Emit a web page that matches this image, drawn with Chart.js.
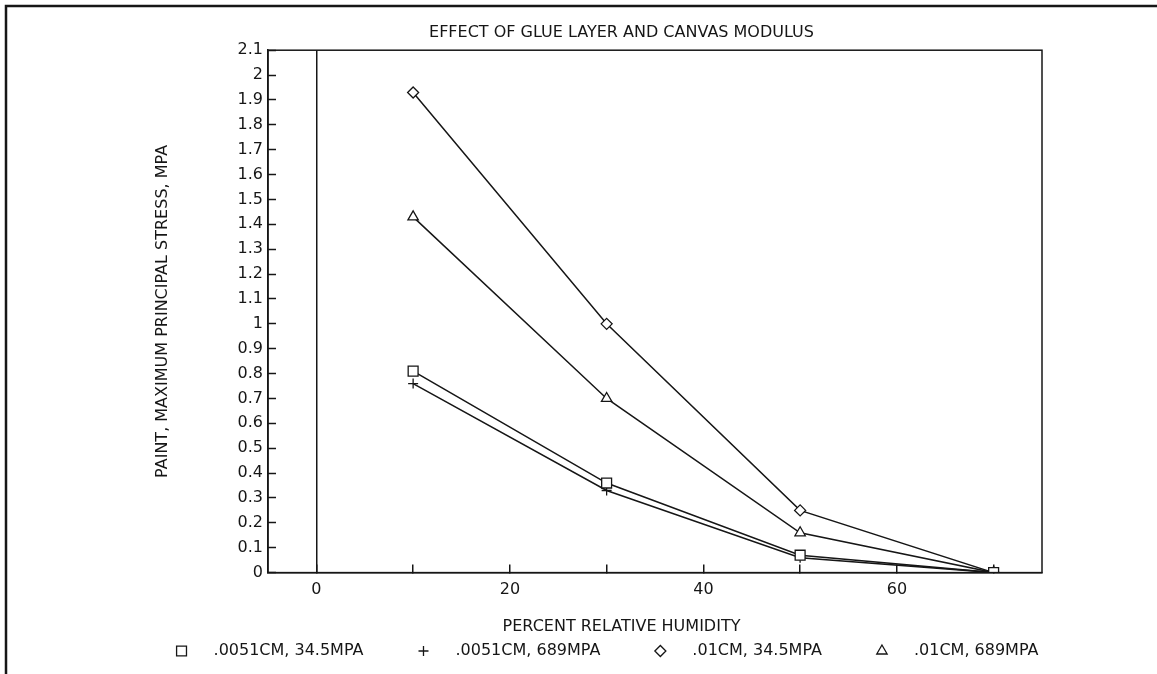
<!DOCTYPE html>
<html>
<head>
<meta charset="utf-8">
<title>Effect of glue layer and canvas modulus</title>
<script src="https://cdn.jsdelivr.net/npm/chart.js@4.4.1/dist/chart.umd.min.js"></script>
<style>
    html, body { margin: 0; padding: 0; background: #fff; }
    #wrap { position: relative; width: 1157px; height: 674px; }
</style>
</head>
<body>
<div id="wrap"><canvas id="stressChart"></canvas></div>
<script>
// values
const humidity = [10, 30, 50, 70];
const thinSoft = [0.81, 0.36, 0.07, 0];
const thinStiff = [0.76, 0.33, 0.06, 0];
const thickSoft = [1.93, 1.00, 0.25, 0];
const thickStiff = [1.43, 0.70, 0.16, 0];
const seriesLabels = ['.0051CM, 34.5MPA', '.0051CM, 689MPA', '.01CM, 34.5MPA', '.01CM, 689MPA'];
const seriesMarkers = ['rect', 'cross', 'rectRot', 'triangle'];
const markerSizes = [7, 5, 5.5, 6];
const xTickValues = [0, 10, 20, 30, 40, 50, 60, 70];
const xLabelValues = [0, 20, 40, 60];

const INK = '#161616';
const FONT = 'DejaVu Sans';
const FONT_SIZE = 16;

Chart.defaults.font.family = FONT;
Chart.defaults.font.size = FONT_SIZE;
Chart.defaults.color = INK;

// outer frame of the scanned page + box round the plot
const framePlugin = {
    id: 'frame',
    beforeDraw(chart) {
        const ctx = chart.ctx;
        ctx.save();
        ctx.fillStyle = '#fff';
        ctx.fillRect(0, 0, chart.width, chart.height);
        ctx.strokeStyle = INK;
        ctx.lineWidth = 2.5;
        ctx.beginPath();
        ctx.moveTo(6, chart.height);
        ctx.lineTo(6, 6);
        ctx.lineTo(chart.width, 6);
        ctx.stroke();
        ctx.restore();
    },
    afterDraw(chart) {
        const a = chart.chartArea;
        const ctx = chart.ctx;
        ctx.save();
        ctx.strokeStyle = INK;
        ctx.lineWidth = 1.5;
        ctx.strokeRect(a.left, a.top, a.right - a.left, a.bottom - a.top);
        ctx.restore();
    }
};

// legend in one row under the axis title, marker then text
const rowLegendPlugin = {
    id: 'rowLegend',
    afterDraw(chart) {
        const ctx = chart.ctx;
        const datasets = chart.data.datasets;
        const markerGap = 32;
        const itemGap = 60;
        ctx.save();
        ctx.font = `${FONT_SIZE}px "${FONT}"`;
        const widths = datasets.map(ds => ctx.measureText(ds.label).width);
        let total = 0;
        widths.forEach((w, i) => {
            total += markerGap + w + (i < widths.length - 1 ? itemGap : 0);
        });
        let x = 610 - total / 2;
        const y = 651;
        datasets.forEach((ds, i) => {
            ctx.strokeStyle = INK;
            ctx.fillStyle = '#fff';
            ctx.lineWidth = 1.3;
            Chart.helpers.drawPoint(ctx, {
                pointStyle: ds.pointStyle,
                radius: ds.pointRadius,
                rotation: 0,
                borderWidth: 1.3
            }, x, y);
            ctx.fillStyle = INK;
            ctx.textAlign = 'left';
            ctx.textBaseline = 'middle';
            ctx.fillText(ds.label, x + markerGap, y);
            x += markerGap + widths[i] + itemGap;
        });
        ctx.restore();
    }
};

function makeSeries(label, values, i) {
    return {
        label: label,
        data: humidity.map((h, j) => ({ x: h, y: values[j] })),
        borderColor: INK,
        borderWidth: 1.5,
        tension: 0,
        fill: false,
        pointStyle: seriesMarkers[i],
        pointRadius: markerSizes[i],
        pointHoverRadius: markerSizes[i],
        pointBorderColor: INK,
        pointBackgroundColor: '#fff',
        pointBorderWidth: 1.3
    };
}

const datasets = [thinSoft, thinStiff, thickSoft, thickStiff].map((vals, i) => makeSeries(seriesLabels[i], vals, i));

new Chart(document.getElementById('stressChart'), {
    type: 'line',
    data: { datasets },
    options: {
        responsive: true,
        maintainAspectRatio: false,
        animation: false,
        events: [],
        layout: { padding: { left: 90, right: 4, top: 0, bottom: 38 } },
        plugins: {
            legend: { display: false },
            tooltip: { enabled: false },
            title: {
                display: true,
                text: 'EFFECT OF GLUE LAYER AND CANVAS MODULUS',
                font: { size: FONT_SIZE, weight: 'normal' },
                color: INK,
                padding: { top: 23, bottom: 8 }
            },
            subtitle: {
                display: true,
                position: 'bottom',
                text: 'PERCENT RELATIVE HUMIDITY',
                font: { size: FONT_SIZE, weight: 'normal' },
                color: INK,
                padding: { top: 1, bottom: 0 }
            }
        },
        scales: {
            x: {
                type: 'linear',
                min: -5,
                max: 75,
                afterBuildTicks: axis => {
                    axis.ticks = xTickValues.map(v => ({ value: v }));
                },
                ticks: {
                    autoSkip: false,
                    maxRotation: 0,
                    padding: 16,
                    color: INK,
                    callback: v => (xLabelValues.includes(v) ? String(v) : '')
                },
                grid: {
                    drawOnChartArea: true,
                    color: c => (c.tick && c.tick.value === 0 ? INK : 'rgba(0,0,0,0)'),
                    lineWidth: 1.5,
                    tickLength: -8,
                    tickColor: INK,
                    tickWidth: 1.5
                },
                border: { display: true, color: INK, width: 1.5 }
            },
            y: {
                min: 0,
                max: 2.1,
                ticks: {
                    stepSize: 0.1,
                    autoSkip: false,
                    padding: 13,
                    color: INK,
                    callback: v => String(+v.toFixed(1))
                },
                grid: {
                    drawOnChartArea: false,
                    tickLength: -8,
                    tickColor: INK,
                    tickWidth: 1.5
                },
                border: { display: true, color: INK, width: 1.5 },
                title: {
                    display: true,
                    text: 'PAINT, MAXIMUM PRINCIPAL STRESS, MPA',
                    font: { size: FONT_SIZE, weight: 'normal' },
                    color: INK,
                    padding: { top: 63, bottom: 0 }
                },
                afterFit: scale => { scale.width = 178; }
            },
            // keeps the plot box clear of the right edge
            yRight: {
                position: 'right',
                display: true,
                grid: { display: false, drawTicks: false },
                border: { display: false },
                ticks: { display: false },
                afterFit: scale => { scale.width = 111; }
            }
        }
    },
    plugins: [framePlugin, rowLegendPlugin]
});
</script>
</body>
</html>
